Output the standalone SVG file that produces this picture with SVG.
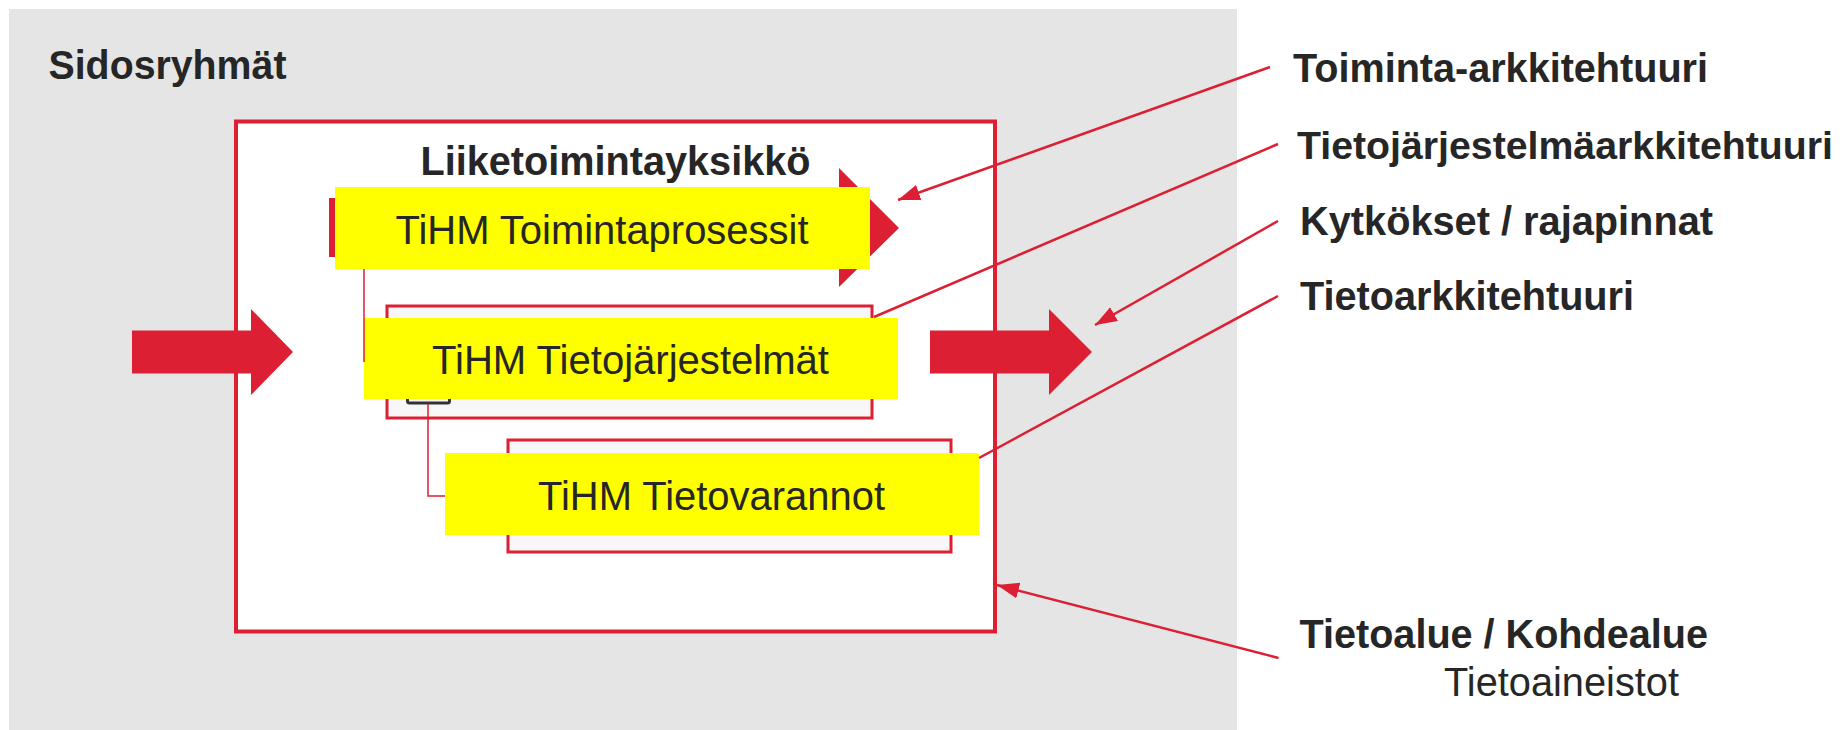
<svg xmlns="http://www.w3.org/2000/svg" width="1842" height="730" viewBox="0 0 1842 730">
  <defs>
    <style>
      .t { font-family: "Liberation Sans", Arial, sans-serif; fill: #262626; font-size: 41px; }
      .b { font-weight: bold; }
      .red { fill: #DC1F33; }
      .yel { fill: #FFFF00; }
      .frame { fill: #F7F7F7; stroke: #DC1F33; stroke-width: 3; }
      .ann { fill: none; stroke: #DC1F33; stroke-width: 2.5; }
      .thin { fill: none; stroke: #DC1F33; stroke-width: 1.5; }
    </style>
    <marker id="ah" markerUnits="userSpaceOnUse" markerWidth="24" markerHeight="18" refX="22" refY="8" orient="auto">
      <path d="M0,0 L22,8 L0,16 z" fill="#DC1F33"/>
    </marker>
  </defs>

  <g id="sidosryhmat">
    <rect x="9" y="9" width="1228" height="721" fill="#E5E5E5"/>
    <text class="t b" x="48.5" y="79" textLength="238" lengthAdjust="spacingAndGlyphs">Sidosryhmät</text>
  </g>

  <g id="liiketoimintayksikko">
    <rect x="236" y="121.5" width="759" height="510" fill="#FFFFFF" stroke="#DC1F33" stroke-width="4"/>
    <text class="t b" x="420.5" y="175" textLength="390" lengthAdjust="spacingAndGlyphs">Liiketoimintayksikkö</text>
  </g>

  <g id="flow-arrows">
    <polygon class="red" points="132,330.5 251,330.5 251,309 293,352 251,395 251,373.5 132,373.5"/>
    <polygon class="red" points="930,330.5 1049,330.5 1049,309 1092,352 1049,395 1049,373.5 930,373.5"/>
    <polygon class="red" points="329,198 839,198 839,168 899,228 839,287 839,257 329,257"/>
  </g>

  <g id="toimintaprosessit">
    <rect class="yel" x="335" y="187" width="535" height="82"/>
    <text class="t" x="395.5" y="244" textLength="413" lengthAdjust="spacingAndGlyphs">TiHM Toimintaprosessit</text>
  </g>

  <g id="tietojarjestelmat">
    <rect class="frame" x="387" y="306" width="485" height="112"/>
    <rect x="407.5" y="382" width="42" height="21" rx="2" fill="#F7F7F7" stroke="#333333" stroke-width="3"/>
    <rect class="yel" x="364" y="318" width="534" height="81"/>
    <text class="t" x="432" y="373.5" textLength="397" lengthAdjust="spacingAndGlyphs">TiHM Tietojärjestelmät</text>
  </g>

  <g id="tietovarannot">
    <rect class="frame" x="508" y="440" width="443" height="112"/>
    <rect class="yel" x="445" y="453" width="534" height="82"/>
    <text class="t" x="538" y="509.5" textLength="347" lengthAdjust="spacingAndGlyphs">TiHM Tietovarannot</text>
  </g>

  <g id="connectors">
    <path class="thin" d="M364,269 V362"/>
    <path class="thin" d="M428,404 V496 H445"/>
    <path class="ann" d="M1270,67 L898,200" marker-end="url(#ah)"/>
    <path class="ann" d="M1278,144 L874,317"/>
    <path class="ann" d="M1278,221 L1095,325" marker-end="url(#ah)"/>
    <path class="ann" d="M1278,296 L979,458"/>
    <path class="ann" d="M1278.5,658 L997,585" marker-end="url(#ah)"/>
  </g>

  <g id="labels">
    <text class="t b" x="1293" y="82" textLength="415" lengthAdjust="spacingAndGlyphs">Toiminta-arkkitehtuuri</text>
    <text class="t b" x="1297" y="158.5" font-size="39" style="font-size:39px" textLength="536" lengthAdjust="spacingAndGlyphs">Tietojärjestelmäarkkitehtuuri</text>
    <text class="t b" x="1300" y="234.5" textLength="413" lengthAdjust="spacingAndGlyphs">Kytkökset / rajapinnat</text>
    <text class="t b" x="1300" y="310" textLength="334" lengthAdjust="spacingAndGlyphs">Tietoarkkitehtuuri</text>
    <text class="t b" x="1299.5" y="648" textLength="408.5" lengthAdjust="spacingAndGlyphs">Tietoalue / Kohdealue</text>
    <text class="t" x="1444" y="696" textLength="235" lengthAdjust="spacingAndGlyphs">Tietoaineistot</text>
  </g>
</svg>
